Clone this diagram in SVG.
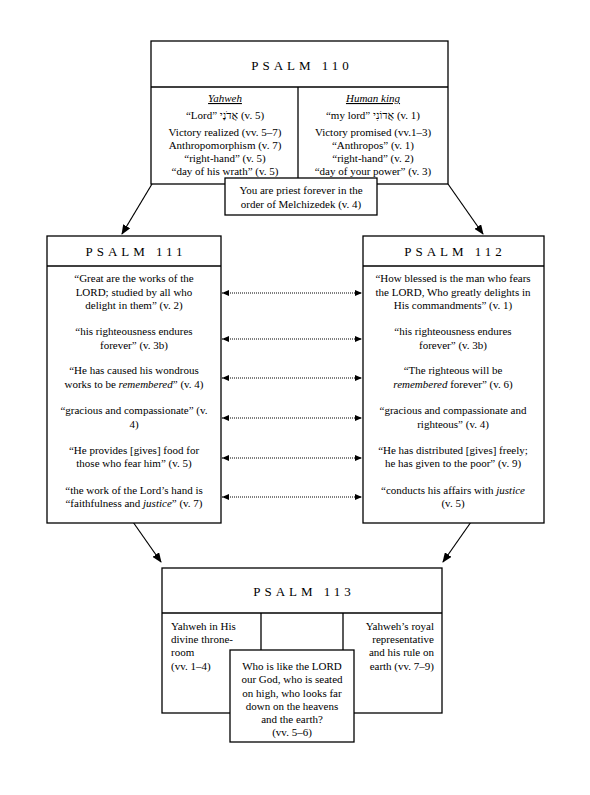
<svg xmlns="http://www.w3.org/2000/svg" width="590" height="795" viewBox="0 0 590 795">
<defs>
<style>
.box{fill:#fff;stroke:#000;stroke-width:1.3}
.ln{stroke:#000;stroke-width:1.3;fill:none}
.t{font-family:"Liberation Serif","Times New Roman",serif;font-size:11px;fill:#000}
.c{text-anchor:middle}
.r{text-anchor:end}
.h{font-family:"Liberation Serif","Times New Roman",serif;font-size:13px;letter-spacing:4px;text-anchor:middle;fill:#000}
.arr{stroke:#000;stroke-width:1.2;fill:none;marker-end:url(#ah)}
.dot{stroke:#000;stroke-width:1;stroke-dasharray:1 1;fill:none;marker-start:url(#sh);marker-end:url(#sh)}
</style>
<marker id="ah" markerWidth="10" markerHeight="8" refX="9" refY="4" orient="auto" markerUnits="userSpaceOnUse">
<path d="M0,0 L10,4 L0,8 Z" fill="#000"/>
</marker>
<marker id="sh" markerWidth="7" markerHeight="6" refX="7" refY="3" orient="auto-start-reverse" markerUnits="userSpaceOnUse">
<path d="M0,0 L7,3 L0,6 Z" fill="#000"/>
</marker>
</defs>

<g id="connectors">
<line class="arr" x1="152" y1="184" x2="122" y2="234"/>
<line class="arr" x1="448" y1="184" x2="483" y2="234"/>
<line class="arr" x1="133" y1="522" x2="161" y2="562"/>
<line class="arr" x1="471" y1="522" x2="443" y2="562"/>
<line class="dot" x1="222" y1="293" x2="362" y2="293"/>
<line class="dot" x1="222" y1="339" x2="362" y2="339"/>
<line class="dot" x1="222" y1="378" x2="362" y2="378"/>
<line class="dot" x1="222" y1="418" x2="362" y2="418"/>
<line class="dot" x1="222" y1="458" x2="362" y2="458"/>
<line class="dot" x1="222" y1="497" x2="362" y2="497"/>
</g>

<g id="psalm110">
<rect class="box" x="151" y="41" width="297" height="143"/>
<line class="ln" x1="151" y1="87" x2="448" y2="87"/>
<line class="ln" x1="298" y1="87" x2="298" y2="184"/>
<text class="h" x="302" y="70">PSALM 110</text>
<text class="t c" x="225" y="102" font-style="italic" text-decoration="underline">Yahweh</text>
<text class="t c" x="225" y="119">“Lord” אֲדֹנָי (v. 5)</text>
<text class="t c" x="225" y="136">Victory realized (vv. 5–7)</text>
<text class="t c" x="225" y="149">Anthropomorphism (v. 7)</text>
<text class="t c" x="225" y="162">“right-hand” (v. 5)</text>
<text class="t c" x="225" y="175">“day of his wrath” (v. 5)</text>
<text class="t c" x="373" y="102" font-style="italic" text-decoration="underline">Human king</text>
<text class="t c" x="373" y="119">“my lord” אֲדוֹנִי (v. 1)</text>
<text class="t c" x="373" y="136">Victory promised (vv.1–3)</text>
<text class="t c" x="373" y="149">“Anthropos” (v. 1)</text>
<text class="t c" x="373" y="162">“right-hand” (v. 2)</text>
<text class="t c" x="373" y="175">“day of your power” (v. 3)</text>
</g>

<g id="melchizedek">
<rect class="box" x="225" y="178" width="152" height="37"/>
<text class="t c" x="301" y="194">You are priest forever in the</text>
<text class="t c" x="301" y="208">order of Melchizedek (v. 4)</text>
</g>

<g id="psalm111">
<rect class="box" x="47" y="236" width="174" height="287"/>
<line class="ln" x1="47" y1="266" x2="221" y2="266"/>
<text class="h" x="136" y="256">PSALM 111</text>
<text class="t c" x="134" y="282">“Great are the works of the</text>
<text class="t c" x="134" y="296">LORD; studied by all who</text>
<text class="t c" x="134" y="309">delight in them” (v. 2)</text>
<text class="t c" x="134" y="335">“his righteousness endures</text>
<text class="t c" x="134" y="349">forever” (v. 3b)</text>
<text class="t c" x="134" y="374">“He has caused his wondrous</text>
<text class="t c" x="134" y="388">works to be <tspan font-style="italic">remembered</tspan>” (v. 4)</text>
<text class="t c" x="134" y="414">“gracious and compassionate” (v.</text>
<text class="t c" x="134" y="428">4)</text>
<text class="t c" x="134" y="454">“He provides [gives] food for</text>
<text class="t c" x="134" y="467">those who fear him” (v. 5)</text>
<text class="t c" x="134" y="494">“the work of the Lord’s hand is</text>
<text class="t c" x="134" y="507">“faithfulness and <tspan font-style="italic">justice</tspan>” (v. 7)</text>
</g>

<g id="psalm112">
<rect class="box" x="363" y="236" width="181" height="287"/>
<line class="ln" x1="363" y1="266" x2="544" y2="266"/>
<text class="h" x="455" y="256">PSALM 112</text>
<text class="t c" x="453" y="282">“How blessed is the man who fears</text>
<text class="t c" x="453" y="296">the LORD, Who greatly delights in</text>
<text class="t c" x="453" y="309">His commandments” (v. 1)</text>
<text class="t c" x="453" y="335">“his righteousness endures</text>
<text class="t c" x="453" y="349">forever” (v. 3b)</text>
<text class="t c" x="453" y="374">“The righteous will be</text>
<text class="t c" x="453" y="388"><tspan font-style="italic">remembered</tspan> forever” (v. 6)</text>
<text class="t c" x="453" y="414">“gracious and compassionate and</text>
<text class="t c" x="453" y="428">righteous” (v. 4)</text>
<text class="t c" x="453" y="454">“He has distributed [gives] freely;</text>
<text class="t c" x="453" y="467">he has given to the poor” (v. 9)</text>
<text class="t c" x="453" y="494">“conducts his affairs with <tspan font-style="italic">justice</tspan></text>
<text class="t c" x="453" y="507">(v. 5)</text>
</g>

<g id="psalm113">
<rect class="box" x="162" y="568" width="280" height="145"/>
<line class="ln" x1="162" y1="613" x2="442" y2="613"/>
<line class="ln" x1="261" y1="613" x2="261" y2="713"/>
<line class="ln" x1="343" y1="613" x2="343" y2="713"/>
<text class="h" x="304" y="596">PSALM 113</text>
<text class="t" x="171" y="630">Yahweh in His</text>
<text class="t" x="171" y="643">divine throne-</text>
<text class="t" x="171" y="656">room</text>
<text class="t" x="171" y="670">(vv. 1–4)</text>
<text class="t r" x="434" y="630">Yahweh’s royal</text>
<text class="t r" x="434" y="643">representative</text>
<text class="t r" x="434" y="656">and his rule on</text>
<text class="t r" x="434" y="670">earth (vv. 7–9)</text>
</g>

<g id="who-is-like">
<rect class="box" x="230" y="650" width="124" height="92"/>
<text class="t c" x="292" y="670">Who is like the LORD</text>
<text class="t c" x="292" y="683">our God, who is seated</text>
<text class="t c" x="292" y="697">on high, who looks far</text>
<text class="t c" x="292" y="710">down on the heavens</text>
<text class="t c" x="292" y="723">and the earth?</text>
<text class="t c" x="292" y="736">(vv. 5–6)</text>
</g>
</svg>
